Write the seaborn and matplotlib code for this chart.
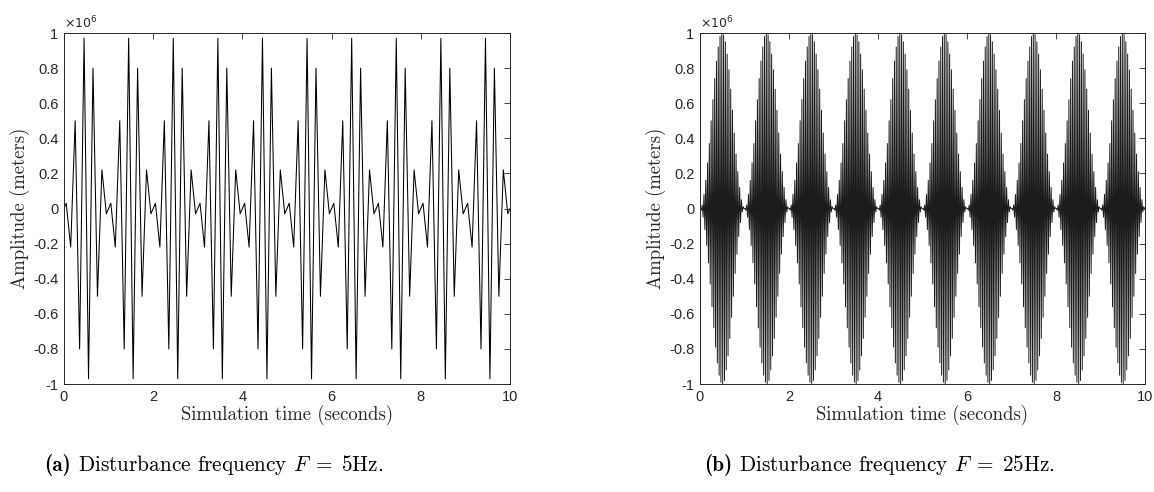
import numpy as np
import pandas as pd
import matplotlib
matplotlib.use("Agg")
import matplotlib.pyplot as plt
from matplotlib.transforms import offset_copy
import seaborn as sns

# ---------------- data (amplitudes in units of 1e6 m) ----
period_starts = [0, 1, 2, 3, 4, 5, 6, 7, 8, 9]          # beat period is 1 s
t_end = 10

# panel (a): extrema of one beat period (F = 5 Hz)
a_peak_times = [0.05, 0.15, 0.25, 0.35, 0.45, 0.55, 0.65, 0.75, 0.85, 0.95]
a_peak_vals = [0.03, -0.22, 0.50, -0.80, 0.97, -0.97, 0.80, -0.50, 0.22, -0.03]

# panel (b): F = 25 Hz, envelope of half-cycle extrema over the rising half of a beat
b_freq = 25
b_envelope = [0.00, 0.01, 0.02, 0.05, 0.08, 0.12, 0.16, 0.21, 0.26, 0.31,
              0.37, 0.43, 0.50, 0.56, 0.62, 0.68, 0.74, 0.79, 0.84, 0.88,
              0.92, 0.95, 0.98, 0.99, 1.00]

x_ticks = [0, 2, 4, 6, 8, 10]
x_tick_labels = ["0", "2", "4", "6", "8", "10"]
y_ticks = [-1, -0.8, -0.6, -0.4, -0.2, 0, 0.2, 0.4, 0.6, 0.8, 1]
y_tick_labels = ["-1", "-0.8", "-0.6", "-0.4", "-0.2", "0", "0.2", "0.4", "0.6", "0.8", "1"]

x_label = "Simulation time (seconds)"
y_label = "Amplitude (meters)"
caption_tags = ["(a)", "(b)"]
caption_texts = [r" Disturbance frequency $F\;=\;5$Hz.",
                 r" Disturbance frequency $F\;=\;25$Hz."]
scale_text = r"$\times10^{6}$"

# ---------------- build series from the read values ---------------------------
def build(period_times, period_vals):
    t = [0.0]
    v = [0.0]
    for s in period_starts:
        t += [s + pt for pt in period_times]
        v += list(period_vals)
    t.append(float(t_end))
    v.append(0.0)
    return pd.DataFrame({"time": t, "amp": np.array(v) * 1e6})

df_a = build(a_peak_times, a_peak_vals)

b_env_full = b_envelope + b_envelope[::-1]
b_times = [(k + 0.5) / (2 * b_freq) for k in range(len(b_env_full))]
b_vals = [e if k % 2 == 0 else -e for k, e in enumerate(b_env_full)]
df_b = build(b_times, b_vals)

# ---------------- figure ------------------------------------------------------
sns.set_style("white")
plt.rcParams["font.family"] = ["Liberation Sans", "DejaVu Sans"]
plt.rcParams["mathtext.fontset"] = "cm"

fig = plt.figure(figsize=(11.54, 4.92), dpi=100)
axes_pos = [[64 / 1154, 1 - 384 / 492, 446 / 1154, 351 / 492],
            [700 / 1154, 1 - 384 / 492, 445 / 1154, 351 / 492]]
cap_left = [44 / 1154, 704 / 1154]
line_cols = ["black", "#1c1c1c"]
line_w = [0.75, 0.7]
axcol = "#262626"

renderer = fig.canvas.get_renderer()
for i, df in enumerate([df_a, df_b]):
    ax = fig.add_axes(axes_pos[i])
    sns.lineplot(data=df, x="time", y="amp", ax=ax, color=line_cols[i],
                 linewidth=line_w[i], estimator=None, sort=False)
    ax.set_xlim(0, 10)
    ax.set_ylim(-1e6, 1e6)
    ax.set_xticks(x_ticks)
    ax.set_xticklabels(x_tick_labels)
    ax.set_yticks([y * 1e6 for y in y_ticks])
    ax.set_yticklabels(y_tick_labels)
    ax.tick_params(direction="in", top=True, right=True, length=4, width=0.6,
                   colors=axcol, labelsize=10.5, pad=4)
    for sp in ax.spines.values():
        sp.set_color(axcol)
        sp.set_linewidth(0.7)
        sp.set_visible(True)
    ax.set_xlabel(x_label, family="cmr10", fontsize=13.5, color=axcol, labelpad=1)
    ax.set_ylabel(y_label, family="cmr10", fontsize=13.5, color=axcol, labelpad=2)
    ax.text(0.0, 1.004, scale_text, transform=ax.transAxes, ha="left", va="bottom",
            fontsize=9, color=axcol, math_fontfamily="dejavusans")
    tag = fig.text(cap_left[i], 0.042, caption_tags[i], family="cmb10", fontsize=15.3,
                   ha="left", va="baseline", color="black")
    w = tag.get_window_extent(renderer).width
    tr = offset_copy(fig.transFigure, fig=fig, x=w, y=0, units="dots")
    fig.text(cap_left[i], 0.042, caption_texts[i], family="cmr10", fontsize=15.3,
             ha="left", va="baseline", color="black", transform=tr)

fig.savefig("out.png", dpi=100)
